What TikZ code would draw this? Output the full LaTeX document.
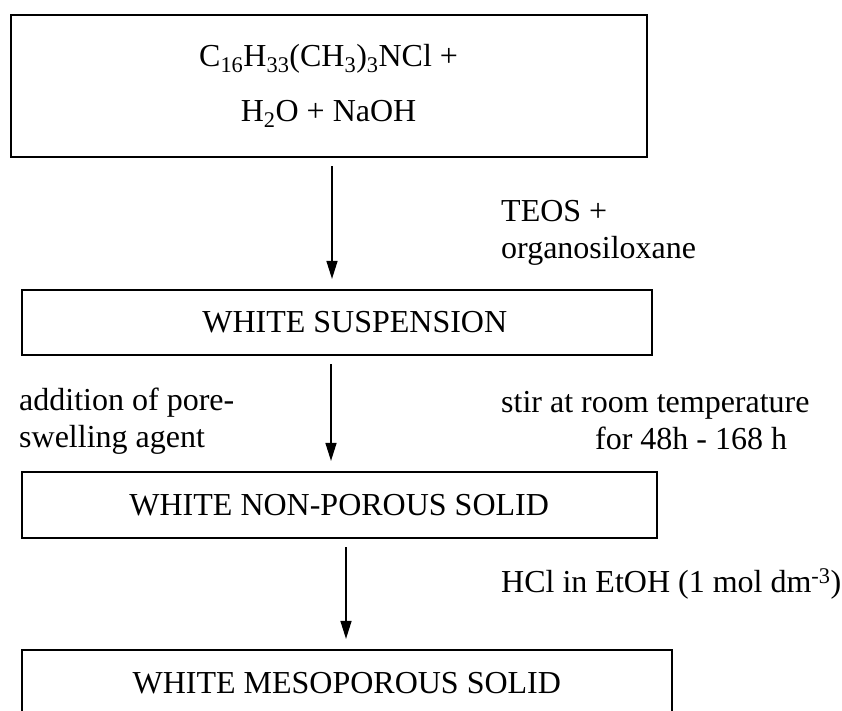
\documentclass[tikz,border=0pt]{standalone}
\usepackage{fontspec}
\setmainfont{Liberation Serif}
\usetikzlibrary{arrows.meta}

\begin{document}
\begin{tikzpicture}[x=1pt,y=-1pt,
	box/.style={draw,line width=2.2pt,inner sep=0pt,align=center},
	flow/.style={line width=1.4pt,shorten <=8pt,shorten >=10pt,-{Triangle[length=18pt,width=11pt]}},
	note/.style={anchor=west,align=left,inner sep=0pt},
	every node/.style={font=\fontsize{32}{37}\selectfont}]
	\clip (0,0) rectangle (842,711);
	\node[box,minimum width=636pt,minimum height=142pt,font=\fontsize{32}{55}\selectfont] (mix) at (328.6,86) {C\textsubscript{16}H\textsubscript{33}(CH\textsubscript{3})\textsubscript{3}NCl +\\H\textsubscript{2}O + NaOH};
	\node[box,minimum width=630pt,minimum height=65pt] (susp) at (336.8,322.5) {\hspace*{36pt}WHITE SUSPENSION};
	\node[box,minimum width=635pt,minimum height=66pt] (solid) at (339.2,505) {WHITE NON-POROUS SOLID};
	\node[box,minimum width=650pt,minimum height=66pt] (meso) at (346.8,683) {WHITE MESOPOROUS SOLID};
	\coordinate (ax1) at (332,0);
	\coordinate (ax2) at (331,0);
	\coordinate (ax3) at (346,0);
	\draw[flow] (ax1 |- mix.south) -- (ax1 |- susp.north);
	\draw[flow] (ax2 |- susp.south) -- (ax2 |- solid.north);
	\draw[flow] (ax3 |- solid.south) -- (ax3 |- meso.north);
	\node[note] (teos) at (501,233) {TEOS +\\organosiloxane};
	\node[note] (swell) at (19,421) {addition of pore-\\swelling agent};
	\node[note] (stir) at (501,421) {stir at room temperature\\\hspace*{94pt}for 48h - 168 h};
	\node[note] (acid) at (501,584) {HCl in EtOH (1 mol dm\textsuperscript{-3})};
\end{tikzpicture}
\end{document}
